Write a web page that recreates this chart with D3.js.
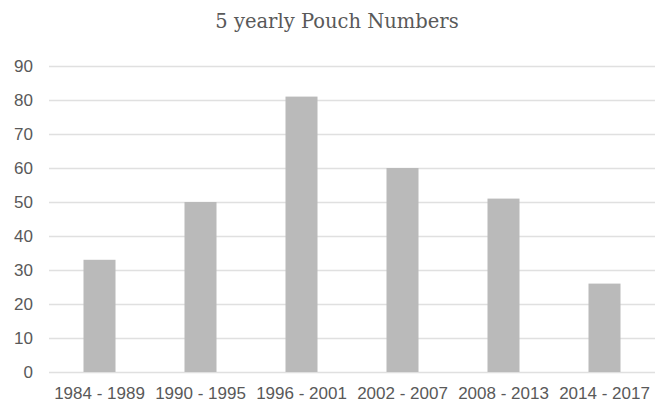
<!DOCTYPE html>
<html>
<head>
<meta charset="utf-8">
<script src="https://cdn.jsdelivr.net/npm/d3@7"></script>
<style>
  html, body { margin: 0; padding: 0; background: #fff; }
  svg { display: block; }
</style>
</head>
<body>
<svg id="chart" width="657" height="404"></svg>
<script>
// Pouch counts per period
const periods = ["1984 - 1989", "1990 - 1995", "1996 - 2001", "2002 - 2007", "2008 - 2013", "2014 - 2017"];
const pouchCounts = [33, 50, 81, 60, 51, 26];
const yTicks = [0, 10, 20, 30, 40, 50, 60, 70, 80, 90];
const chartTitle = "5 yearly Pouch Numbers";

const svg = d3.select("#chart");
const W = 657, H = 404;
const margin = { top: 66, right: 2, bottom: 32, left: 49 };
const innerW = W - margin.left - margin.right;
const innerH = H - margin.top - margin.bottom;
const labelFont = "'Liberation Sans', Arial, sans-serif";

const x = d3.scaleBand()
  .domain(periods)
  .range([margin.left, margin.left + innerW])
  .paddingInner(0.683)
  .paddingOuter(0.3415);

const y = d3.scaleLinear()
  .domain([0, 90])
  .range([margin.top + innerH, margin.top]);

// Title
svg.append("text")
  .attr("x", 337)
  .attr("y", 28)
  .attr("text-anchor", "middle")
  .attr("font-family", "'DejaVu Serif', 'Liberation Serif', serif")
  .attr("font-size", 19.5)
  .attr("fill", "#595959")
  .text(chartTitle);

// Horizontal gridlines + y labels
const yAxis = d3.axisLeft(y)
  .tickValues(yTicks)
  .tickSize(-innerW)
  .tickPadding(16)
  .tickFormat(d3.format("d"));

const gy = svg.append("g")
  .attr("transform", `translate(${margin.left},0)`)
  .call(yAxis)
  .attr("font-family", labelFont)
  .attr("font-size", 17);
gy.select(".domain").remove();
gy.selectAll(".tick line")
  .attr("stroke", "#e0e0e0")
  .attr("stroke-width", 1.3);
gy.selectAll(".tick text")
  .attr("fill", "#595959");

// Bars
svg.append("g")
  .selectAll("rect")
  .data(pouchCounts)
  .join("rect")
  .attr("x", (d, i) => x(periods[i]))
  .attr("width", x.bandwidth())
  .attr("y", d => y(d))
  .attr("height", d => y(0) - y(d))
  .attr("fill", "#bababa");

// Category axis
const xAxis = d3.axisBottom(x).tickSize(0).tickPadding(15);
const gx = svg.append("g")
  .attr("transform", `translate(0,${y(0)})`)
  .call(xAxis)
  .attr("font-family", labelFont)
  .attr("font-size", 17);
gx.select(".domain").remove();
gx.selectAll(".tick text")
  .attr("fill", "#595959");
</script>
</body>
</html>
